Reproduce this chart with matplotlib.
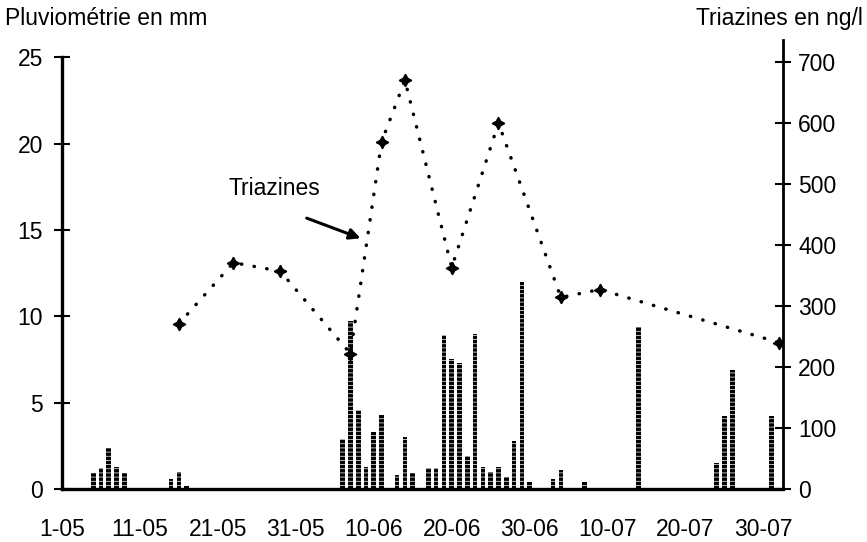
import matplotlib.pyplot as plt

plt.rcParams['font.family'] = ['Liberation Sans', 'DejaVu Sans']
plt.rcParams['hatch.linewidth'] = 0.5

# jours numerotes depuis le 1er mai (1-05 = 1, 1-06 = 32, 1-07 = 62)
pluie_jour = [5, 6, 7, 8, 9, 15, 16, 17,
              37, 38, 39, 40, 41, 42, 44, 45, 46, 48, 49, 50, 51, 52, 53,
              54, 55, 56, 57, 58, 59, 60, 61,
              64, 65, 68, 75, 85, 86, 87, 92]
pluie_mm = [0.9, 1.2, 2.4, 1.3, 0.9, 0.6, 1.0, 0.2,
            2.9, 9.7, 4.6, 1.3, 3.3, 4.3, 0.8, 3.0, 0.9, 1.2, 1.2, 8.9, 7.5, 7.3, 1.9,
            9.0, 1.3, 1.0, 1.3, 0.7, 2.8, 12.0, 0.4,
            0.6, 1.1, 0.4, 9.4, 1.5, 4.2, 6.9, 4.2]

tri_jour = [16, 23, 29, 38, 42, 45, 51, 57, 65, 70, 93]
tri_ng = [271, 371, 357, 222, 569, 670, 363, 600, 314, 327, 240]

dates_pos = [1, 11, 21, 31, 41, 51, 61, 71, 81, 91]
dates = ['1-05', '11-05', '21-05', '31-05', '10-06', '20-06', '30-06',
         '10-07', '20-07', '30-07']

fig = plt.figure(figsize=(8.67, 5.42), dpi=100)
ax1 = fig.add_axes([0.0715, 0.0978, 0.8316, 0.8284])
ax2 = ax1.twinx()

ax1.bar(pluie_jour, pluie_mm, width=0.6, color='black', edgecolor='white',
        hatch='----', linewidth=0, zorder=2)

ax2.plot(tri_jour, tri_ng, color='black', lw=2.5, linestyle=(0, (0.1, 3.6)),
         dash_capstyle='round', marker=(4, 1, 0), ms=9, mfc='black',
         mec='black', zorder=3)

ax1.set_xlim(1.0, 93.5)
ax1.set_ylim(0, 26)
ax2.set_ylim(0, 736)

ax1.set_yticks([0, 5, 10, 15, 20, 25])
ax2.set_yticks(range(0, 800, 100))
ax1.set_xticks(dates_pos)
ax1.set_xticklabels(dates)

for a in (ax1, ax2):
    a.spines['top'].set_visible(False)
ax1.spines['right'].set_visible(False)
ax1.spines['left'].set_bounds(0, 25)
ax1.spines['left'].set_linewidth(2.4)
ax1.spines['bottom'].set_linewidth(2.4)
ax2.spines['right'].set_linewidth(2.0)
ax2.spines['left'].set_visible(False)
ax2.spines['bottom'].set_visible(False)

ax1.tick_params(axis='y', direction='inout', length=11, width=1.5,
                labelsize=16.5, pad=8)
ax2.tick_params(axis='y', direction='inout', length=12, width=1.5,
                labelsize=16.5, pad=5)
ax1.tick_params(axis='x', length=0, labelsize=16.5, pad=21)

fig.text(0.006, 0.965, 'Pluviométrie en mm', fontsize=16.5, va='center',
         ha='left')
fig.text(0.995, 0.965, 'Triazines en ng/l', fontsize=16.5, va='center',
         ha='right')

ax2.text(28.2, 493, 'Triazines', fontsize=16.5, ha='center', va='center')
ax2.annotate('', xy=(39.3, 411), xytext=(32.4, 444),
             arrowprops=dict(arrowstyle='-|>', color='black', lw=2.2,
                             mutation_scale=16, shrinkA=0, shrinkB=0))

fig.savefig('out.png', dpi=100)
